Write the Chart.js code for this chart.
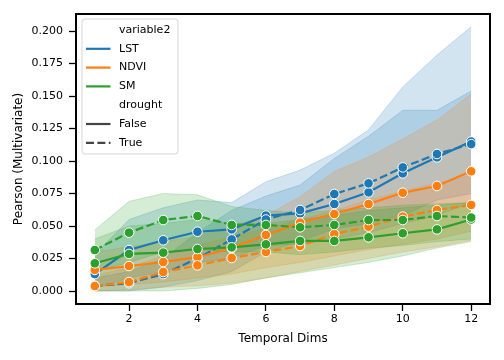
<!DOCTYPE html>
<html>
<head>
<meta charset="utf-8">
<script src="https://cdn.jsdelivr.net/npm/chart.js@4"></script>
<style>
  html, body { margin: 0; padding: 0; background: #fff; }
  #wrap { width: 504px; height: 360px; }
</style>
</head>
<body>
<div id="wrap"><canvas id="c" width="504" height="360"></canvas></div>
<script>
// ---- data ----
const temporalDims = [1, 2, 3, 4, 5, 6, 7, 8, 9, 10, 11, 12];

const lstFalse   = [0.013, 0.0315, 0.039, 0.0456, 0.0474, 0.058, 0.0597, 0.0669, 0.0759, 0.0905, 0.1028, 0.115];
const lstFalseLo = [0.002, 0.010, 0.015, 0.022, 0.025, 0.035, 0.036, 0.040, 0.045, 0.052, 0.058, 0.068];
const lstFalseHi = [0.028, 0.055, 0.064, 0.070, 0.068, 0.084, 0.093, 0.106, 0.124, 0.157, 0.1815, 0.2033];

const lstTrue    = [0.004, 0.006, 0.013, 0.025, 0.0397, 0.055, 0.0623, 0.0746, 0.0828, 0.0951, 0.1054, 0.113];
const lstTrueLo  = [0.000, 0.000, 0.003, 0.008, 0.015, 0.030, 0.038, 0.048, 0.052, 0.058, 0.070, 0.075];
const lstTrueHi  = [0.010, 0.015, 0.025, 0.045, 0.062, 0.073, 0.0815, 0.102, 0.119, 0.139, 0.139, 0.1538];

const ndviFalse   = [0.0162, 0.0192, 0.0223, 0.026, 0.033, 0.0431, 0.0526, 0.0592, 0.0669, 0.0756, 0.0808, 0.0921];
const ndviFalseLo = [0.003, 0.005, 0.007, 0.010, 0.013, 0.018, 0.022, 0.027, 0.032, 0.036, 0.040, 0.046];
const ndviFalseHi = [0.030, 0.034, 0.038, 0.042, 0.050, 0.058, 0.0725, 0.092, 0.103, 0.117, 0.1315, 0.1515];

const ndviTrue    = [0.0038, 0.0069, 0.0146, 0.0197, 0.0254, 0.030, 0.0346, 0.0438, 0.0495, 0.0572, 0.0623, 0.0662];
const ndviTrueLo  = [0.000, 0.001, 0.003, 0.004, 0.006, 0.010, 0.015, 0.020, 0.025, 0.030, 0.034, 0.039];
const ndviTrueHi  = [0.012, 0.018, 0.027, 0.035, 0.042, 0.048, 0.055, 0.062, 0.070, 0.077, 0.083, 0.089];

const smFalse   = [0.0213, 0.0285, 0.0295, 0.0323, 0.0336, 0.0359, 0.0385, 0.0385, 0.0413, 0.0444, 0.0474, 0.055];
const smFalseLo = [0.000, 0.000, 0.000, 0.002, 0.005, 0.010, 0.014, 0.018, 0.022, 0.027, 0.033, 0.038];
const smFalseHi = [0.040, 0.050, 0.052, 0.055, 0.052, 0.052, 0.055, 0.058, 0.062, 0.064, 0.066, 0.068];

const smTrue    = [0.0315, 0.0449, 0.0546, 0.0577, 0.0508, 0.0508, 0.049, 0.0508, 0.0546, 0.0546, 0.0577, 0.0565];
const smTrueLo  = [0.015, 0.022, 0.030, 0.032, 0.030, 0.030, 0.028, 0.030, 0.033, 0.035, 0.038, 0.040];
const smTrueHi  = [0.047, 0.069, 0.075, 0.074, 0.065, 0.062, 0.060, 0.062, 0.064, 0.066, 0.067, 0.068];

const xTickValues = [2, 4, 6, 8, 10, 12];
const yTickValues = [0, 0.025, 0.05, 0.075, 0.1, 0.125, 0.15, 0.175, 0.2];

const hueLabels = ['LST', 'NDVI', 'SM'];
const styleLabels = ['False', 'True'];

// ---- styling ----
const COLORS = { LST: '#1f77b4', NDVI: '#ff7f0e', SM: '#2ca02c' };
function rgba(hex, a) {
  const n = parseInt(hex.slice(1), 16);
  return `rgba(${(n >> 16) & 255},${(n >> 8) & 255},${n & 255},${a})`;
}
const DASH = [8, 3.4];
const FONT = 'DejaVu Sans';

const pts = arr => arr.map((v, i) => ({ x: temporalDims[i], y: v }));

const groups = [
  { hue: 'LST',  dashed: false, mean: lstFalse,  lo: lstFalseLo,  hi: lstFalseHi,  order: 6 },
  { hue: 'LST',  dashed: true,  mean: lstTrue,   lo: lstTrueLo,   hi: lstTrueHi,   order: 5 },
  { hue: 'NDVI', dashed: false, mean: ndviFalse, lo: ndviFalseLo, hi: ndviFalseHi, order: 4 },
  { hue: 'NDVI', dashed: true,  mean: ndviTrue,  lo: ndviTrueLo,  hi: ndviTrueHi,  order: 3 },
  { hue: 'SM',   dashed: false, mean: smFalse,   lo: smFalseLo,   hi: smFalseHi,   order: 2 },
  { hue: 'SM',   dashed: true,  mean: smTrue,    lo: smTrueLo,    hi: smTrueHi,    order: 1 },
];

const datasets = [];
groups.forEach((g, gi) => {
  const c = COLORS[g.hue];
  const hiIndex = datasets.length;
  datasets.push({
    label: g.hue + ' hi', data: pts(g.hi), borderColor: rgba(c, 0.2), borderWidth: 1,
    pointRadius: 0, fill: { target: hiIndex + 1 }, backgroundColor: rgba(c, 0.2),
    order: 100 + (6 - gi), tension: 0
  });
  datasets.push({
    label: g.hue + ' lo', data: pts(g.lo), borderColor: rgba(c, 0.2), borderWidth: 1,
    pointRadius: 0, fill: false, order: 100 + (6 - gi), tension: 0
  });
});
groups.forEach(g => {
  const c = COLORS[g.hue];
  datasets.push({
    label: g.hue + (g.dashed ? ' True' : ' False'),
    data: pts(g.mean), borderColor: c, backgroundColor: c, borderWidth: 2.2,
    borderDash: g.dashed ? DASH : [], pointRadius: 4.8, pointBorderColor: '#fff',
    pointBorderWidth: 1, pointBackgroundColor: c, fill: false, order: g.order, tension: 0,
    clip: false
  });
});

const framePlugin = {
  id: 'frame',
  afterDatasetsDraw(chart) {
    const { ctx, chartArea: a } = chart;
    ctx.save();
    ctx.strokeStyle = '#000';
    ctx.lineWidth = 2;
    ctx.strokeRect(a.left, a.top, a.right - a.left, a.bottom - a.top);
    ctx.restore();
  }
};

const legendPlugin = {
  id: 'customLegend',
  afterDraw(chart) {
    const ctx = chart.ctx;
    ctx.save();
    const bx = 82, by = 19, bw = 96, bh = 135, r = 3;
    ctx.beginPath();
    ctx.moveTo(bx + r, by);
    ctx.arcTo(bx + bw, by, bx + bw, by + bh, r);
    ctx.arcTo(bx + bw, by + bh, bx, by + bh, r);
    ctx.arcTo(bx, by + bh, bx, by, r);
    ctx.arcTo(bx, by, bx + bw, by, r);
    ctx.closePath();
    ctx.fillStyle = 'rgba(255,255,255,0.8)';
    ctx.fill();
    ctx.strokeStyle = 'rgba(204,204,204,0.8)';
    ctx.lineWidth = 1;
    ctx.stroke();

    const rows = [
      { text: 'variable2', color: null },
      { text: hueLabels[0], color: COLORS.LST, dash: [] },
      { text: hueLabels[1], color: COLORS.NDVI, dash: [] },
      { text: hueLabels[2], color: COLORS.SM, dash: [] },
      { text: 'drought', color: null },
      { text: styleLabels[0], color: '#444', dash: [] },
      { text: styleLabels[1], color: '#444', dash: DASH },
    ];
    const y0 = 30, dy = 18.8;
    ctx.font = `11px "${FONT}"`;
    ctx.textBaseline = 'middle';
    ctx.textAlign = 'left';
    rows.forEach((row, i) => {
      const y = y0 + i * dy;
      if (row.color) {
        ctx.beginPath();
        ctx.setLineDash(row.dash);
        ctx.strokeStyle = row.color;
        ctx.lineWidth = 2.2;
        ctx.moveTo(86, y);
        ctx.lineTo(110.5, y);
        ctx.stroke();
        ctx.setLineDash([]);
      }
      ctx.fillStyle = '#000';
      ctx.fillText(row.text, 119, y);
    });
    ctx.restore();
  }
};

new Chart(document.getElementById('c'), {
  type: 'line',
  data: { datasets },
  plugins: [framePlugin, legendPlugin],
  options: {
    responsive: false,
    animation: false,
    devicePixelRatio: 1,
    layout: { padding: { left: 0, top: 14, right: 14, bottom: 0 } },
    plugins: { legend: { display: false }, tooltip: { enabled: false }, filler: { propagate: false } },
    scales: {
      x: {
        type: 'linear', min: 0.45, max: 12.55,
        afterBuildTicks: s => { s.ticks = xTickValues.map(v => ({ value: v })); },
        afterFit: s => { s.height = 56; },
        grid: { display: true, drawOnChartArea: false, drawTicks: true, tickLength: 7, tickColor: '#000', tickWidth: 1.3 },
        border: { display: false },
        ticks: { color: '#000', font: { family: FONT, size: 11 }, padding: 2, maxRotation: 0, callback: v => String(v) },
        title: { display: true, text: 'Temporal Dims', color: '#000', font: { family: FONT, size: 12 }, padding: { top: 0, bottom: 14 } }
      },
      y: {
        type: 'linear', min: -0.01, max: 0.21308,
        afterBuildTicks: s => { s.ticks = yTickValues.map(v => ({ value: v })); },
        afterFit: s => { s.width = 76; },
        grid: { display: true, drawOnChartArea: false, drawTicks: true, tickLength: 7, tickColor: '#000', tickWidth: 1.3 },
        border: { display: false },
        ticks: { color: '#000', font: { family: FONT, size: 11 }, padding: 6, callback: v => Number(v).toFixed(3) },
        title: { display: true, text: 'Pearson (Multivariate)', color: '#000', font: { family: FONT, size: 12 }, padding: { top: 12, bottom: 0 } }
      }
    }
  }
});
</script>
</body>
</html>
